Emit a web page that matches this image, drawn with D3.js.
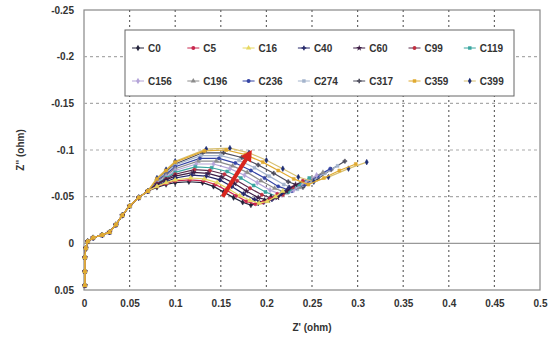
<!DOCTYPE html>
<html>
<head>
<meta charset="utf-8">
<script src="https://cdn.jsdelivr.net/npm/d3@7"></script>
<style>
  body { margin: 0; background: #fff; }
  text { font-family: "Liberation Sans", Arial, sans-serif; fill: #333; }
</style>
</head>
<body>
<div class="plot"></div>
<script>
// Chart data
const xTicks = [0, 0.05, 0.1, 0.15, 0.2, 0.25, 0.3, 0.35, 0.4, 0.45, 0.5];
const yTicks = [-0.25, -0.2, -0.15, -0.1, -0.05, 0, 0.05];
const seriesNames = ["C0", "C5", "C16", "C40", "C60", "C99", "C119",
                     "C156", "C196", "C236", "C274", "C317", "C359", "C399"];

// high frequency part shared by every cycle  [Z', Z'']
const commonStart = [[0.001,0.045],[0.001,0.03],[0.001,0.015],[0.002,0.005],[0.004,-0.002],
  [0.01,-0.006],[0.02,-0.009],[0.028,-0.012],[0.035,-0.02],[0.042,-0.03],[0.05,-0.04],
  [0.06,-0.049],[0.07,-0.056]];

const c0   = [[0.08,-0.060],[0.09,-0.063],[0.10,-0.065],[0.115,-0.066],[0.13,-0.065],[0.142,-0.061],[0.153,-0.055],[0.164,-0.049],[0.174,-0.044],[0.183,-0.041],[0.191,-0.043],[0.198,-0.046],[0.205,-0.050]];
const c5   = [[0.08,-0.061],[0.09,-0.064],[0.10,-0.067],[0.116,-0.068],[0.131,-0.067],[0.144,-0.063],[0.156,-0.057],[0.167,-0.051],[0.178,-0.045],[0.188,-0.042],[0.196,-0.044],[0.204,-0.048],[0.212,-0.053]];
const c16  = [[0.08,-0.061],[0.09,-0.065],[0.10,-0.068],[0.117,-0.070],[0.132,-0.069],[0.146,-0.065],[0.159,-0.058],[0.171,-0.051],[0.182,-0.046],[0.192,-0.043],[0.201,-0.045],[0.21,-0.050],[0.218,-0.056]];
const c40  = [[0.08,-0.062],[0.09,-0.066],[0.10,-0.070],[0.118,-0.073],[0.134,-0.072],[0.149,-0.068],[0.162,-0.061],[0.175,-0.053],[0.187,-0.047],[0.197,-0.044],[0.206,-0.047],[0.216,-0.053],[0.225,-0.060]];
const c60  = [[0.08,-0.063],[0.09,-0.068],[0.10,-0.072],[0.12,-0.076],[0.136,-0.075],[0.151,-0.071],[0.165,-0.064],[0.178,-0.056],[0.191,-0.049],[0.202,-0.046],[0.212,-0.049],[0.222,-0.056],[0.232,-0.063]];
const c99  = [[0.08,-0.064],[0.09,-0.069],[0.10,-0.074],[0.121,-0.079],[0.138,-0.078],[0.154,-0.074],[0.168,-0.067],[0.182,-0.059],[0.195,-0.052],[0.207,-0.048],[0.218,-0.052],[0.229,-0.060],[0.24,-0.067]];
const c119 = [[0.08,-0.064],[0.09,-0.070],[0.10,-0.076],[0.122,-0.082],[0.14,-0.081],[0.157,-0.077],[0.172,-0.070],[0.186,-0.062],[0.199,-0.055],[0.212,-0.050],[0.224,-0.055],[0.236,-0.063],[0.247,-0.070]];
const c156 = [[0.08,-0.065],[0.09,-0.071],[0.10,-0.078],[0.123,-0.085],[0.142,-0.085],[0.16,-0.080],[0.176,-0.073],[0.19,-0.065],[0.204,-0.057],[0.217,-0.052],[0.23,-0.057],[0.243,-0.066],[0.255,-0.073]];
const c196 = [[0.08,-0.066],[0.09,-0.073],[0.10,-0.080],[0.125,-0.088],[0.145,-0.088],[0.163,-0.083],[0.179,-0.076],[0.194,-0.067],[0.209,-0.059],[0.222,-0.054],[0.236,-0.060],[0.249,-0.069],[0.262,-0.076]];
const c236 = [[0.08,-0.067],[0.09,-0.074],[0.10,-0.082],[0.127,-0.091],[0.148,-0.091],[0.166,-0.086],[0.183,-0.078],[0.198,-0.070],[0.213,-0.061],[0.228,-0.056],[0.242,-0.063],[0.256,-0.072],[0.27,-0.080]];
const c274 = [[0.08,-0.068],[0.09,-0.076],[0.10,-0.084],[0.128,-0.094],[0.15,-0.094],[0.17,-0.089],[0.187,-0.081],[0.203,-0.072],[0.219,-0.063],[0.234,-0.058],[0.249,-0.066],[0.264,-0.075],[0.278,-0.083]];
const c317 = [[0.08,-0.068],[0.09,-0.077],[0.10,-0.085],[0.13,-0.097],[0.153,-0.097],[0.173,-0.092],[0.191,-0.084],[0.208,-0.075],[0.224,-0.066],[0.24,-0.060],[0.256,-0.069],[0.271,-0.079],[0.286,-0.088]];
const c359 = [[0.08,-0.069],[0.09,-0.078],[0.10,-0.087],[0.132,-0.099],[0.156,-0.100],[0.177,-0.095],[0.196,-0.087],[0.213,-0.078],[0.23,-0.069],[0.246,-0.063],[0.263,-0.070],[0.28,-0.078],[0.298,-0.085]];
const c399 = [[0.08,-0.070],[0.09,-0.079],[0.10,-0.088],[0.134,-0.101],[0.16,-0.102],[0.181,-0.097],[0.2,-0.089],[0.218,-0.080],[0.235,-0.071],[0.252,-0.066],[0.268,-0.071],[0.29,-0.080],[0.31,-0.087]];
const seriesValues = [c0, c5, c16, c40, c60, c99, c119, c156, c196, c236, c274, c317, c359, c399];

// red arrow (cycle direction)
const arrowFrom = [0.152, -0.05];
const arrowTo = [0.184, -0.1];

const colors = ["#22223a", "#c8284e", "#e6d860", "#26286a", "#3c1c44", "#5a2c4c", "#3aa6a0",
                "#b4a4d8", "#8c8c8c", "#3444a4", "#a4b4cc", "#4c4c5c", "#e0aa30", "#d8c070"];
const markerColors = ["#22223a", "#c8284e", "#e6d860", "#26286a", "#3c1c44", "#c03040", "#3aa6a0",
                "#b4a4d8", "#8c8c8c", "#3444a4", "#a4b4cc", "#4c4c5c", "#e0aa30", "#1c2c74"];
const shapes = [d3.symbolDiamond, d3.symbolCircle, d3.symbolTriangle, d3.symbolCross, d3.symbolStar,
                d3.symbolCircle, d3.symbolSquare, d3.symbolDiamond, d3.symbolTriangle, d3.symbolCircle,
                d3.symbolSquare, d3.symbolCross, d3.symbolSquare, d3.symbolDiamond];
// paint order: the pale / gold series end up on top like in the original
const drawOrder = [11, 10, 9, 8, 7, 6, 5, 4, 3, 0, 13, 1, 2, 12];

const W = 551, H = 342;
const margin = {top: 10, right: 11, bottom: 52, left: 84};

const svg = d3.select(".plot").append("svg")
    .attr("width", W).attr("height", H);

const x = d3.scaleLinear().domain([0, 0.5]).range([margin.left, W - margin.right]);
const y = d3.scaleLinear().domain([-0.25, 0.05]).range([margin.top, H - margin.bottom]);

// plot background
svg.append("rect")
    .attr("x", x(0)).attr("y", y(-0.25))
    .attr("width", x(0.5) - x(0)).attr("height", y(0.05) - y(-0.25))
    .attr("fill", "#fff").attr("stroke", "#888").attr("stroke-width", 1.2);

// grid
const grid = svg.append("g");
grid.selectAll(".vg")
    .data(xTicks.filter(d => d > 0 && d < 0.5))
    .enter().append("line")
        .attr("x1", d => x(d)).attr("x2", d => x(d))
        .attr("y1", y(-0.25)).attr("y2", y(0.05))
        .attr("stroke", "#666").attr("stroke-dasharray", "2,3").attr("stroke-width", 1.2);
grid.selectAll(".hg")
    .data(yTicks.filter(d => d > -0.25 && d < 0.05 && d !== 0))
    .enter().append("line")
        .attr("x1", x(0)).attr("x2", x(0.5))
        .attr("y1", d => y(d)).attr("y2", d => y(d))
        .attr("stroke", "#aaa").attr("stroke-dasharray", "3,3").attr("stroke-width", 1.2);
grid.append("line")
    .attr("x1", x(0)).attr("x2", x(0.5))
    .attr("y1", y(0)).attr("y2", y(0))
    .attr("stroke", "#999").attr("stroke-width", 1.2);

// axes
const xAxis = d3.axisBottom(x).tickValues(xTicks).tickSize(0).tickPadding(10).tickFormat(d => String(d));
const yAxis = d3.axisLeft(y).tickValues(yTicks).tickSize(0).tickPadding(10).tickFormat(d => String(d));
svg.append("g").attr("transform", `translate(0,${y(0.05)})`).call(xAxis)
    .call(g => g.select(".domain").remove())
    .selectAll("text").style("font-size", "10px").style("font-weight", "bold").attr("fill", "#333");
svg.append("g").attr("transform", `translate(${x(0)},0)`).call(yAxis)
    .call(g => g.select(".domain").remove())
    .selectAll("text").style("font-size", "10px").style("font-weight", "bold").attr("fill", "#333");

svg.append("text")
    .attr("x", (x(0) + x(0.5)) / 2).attr("y", 331)
    .attr("text-anchor", "middle")
    .style("font-size", "10px").style("font-weight", "bold")
    .text("Z' (ohm)");
svg.append("text")
    .attr("transform", `translate(24,${(y(-0.15) + y(-0.05)) / 2}) rotate(-90)`)
    .attr("text-anchor", "middle")
    .style("font-size", "10px").style("font-weight", "bold")
    .text("Z'' (ohm)");

// series
const line = d3.line().x(d => x(d[0])).y(d => y(d[1]));
drawOrder.forEach(i => {
    const pts = commonStart.concat(seriesValues[i]);
    const g = svg.append("g");
    g.append("path")
        .datum(pts)
        .attr("d", line)
        .attr("fill", "none")
        .attr("stroke", colors[i])
        .attr("stroke-width", 1.2);
    g.selectAll("path.m")
        .data(pts)
        .enter().append("path")
            .attr("class", "m")
            .attr("transform", d => `translate(${x(d[0])},${y(d[1])})`)
            .attr("d", d3.symbol().type(shapes[i]).size(9))
            .attr("fill", markerColors[i])
            .attr("stroke", markerColors[i])
            .attr("stroke-width", 0.5);
});

// arrow
const ax1 = x(arrowFrom[0]), ay1 = y(arrowFrom[1]), ax2 = x(arrowTo[0]), ay2 = y(arrowTo[1]);
const ang = Math.atan2(ay2 - ay1, ax2 - ax1);
const headLen = 11, headW = 6;
const bx = ax2 - headLen * Math.cos(ang), by = ay2 - headLen * Math.sin(ang);
svg.append("line")
    .attr("x1", ax1).attr("y1", ay1).attr("x2", bx).attr("y2", by)
    .attr("stroke", "#d8261e").attr("stroke-width", 4);
svg.append("path")
    .attr("d", `M${ax2},${ay2}L${bx + headW * Math.sin(ang)},${by - headW * Math.cos(ang)}L${bx - headW * Math.sin(ang)},${by + headW * Math.cos(ang)}Z`)
    .attr("fill", "#d8261e");

// legend
const legend = svg.append("g");
legend.append("rect")
    .attr("x", 125).attr("y", 30).attr("width", 389).attr("height", 66)
    .attr("fill", "#fff").attr("stroke", "#666").attr("stroke-width", 1);
const item = legend.selectAll(".item")
    .data(seriesNames)
    .enter().append("g")
        .attr("transform", (d, i) => `translate(${148 + (i % 7) * 55.3},${i < 7 ? 48 : 81})`);
item.append("line")
    .attr("x1", -16).attr("x2", -4)
    .attr("stroke", (d, i) => colors[i]).attr("stroke-width", 1);
item.append("path")
    .attr("transform", "translate(-10,0)")
    .attr("d", (d, i) => d3.symbol().type(shapes[i]).size(12)())
    .attr("fill", (d, i) => markerColors[i]);
item.append("text")
    .attr("x", 0).attr("y", 4)
    .style("font-size", "10px").style("font-weight", "bold")
    .text(d => d);
</script>
</body>
</html>
